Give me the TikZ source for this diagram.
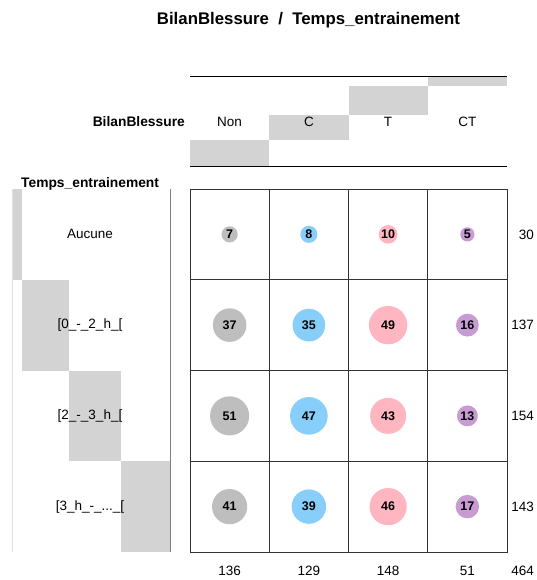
\documentclass[tikz,border=0pt]{standalone}
\usepackage{fontspec}
\setmainfont{Liberation Sans}
\definecolor{barcol}{HTML}{D3D3D3}
\definecolor{cgray}{HTML}{BEBEBE}
\definecolor{cblue}{HTML}{87CEFA}
\definecolor{cpink}{HTML}{FFB6C1}
\definecolor{cpurple}{RGB}{200,155,210}
\definecolor{gridcol}{HTML}{333333}
\begin{document}
\begin{tikzpicture}[x=1pt,y=-1pt,
  txt/.style={inner sep=0pt,font=\fontsize{13.5}{15}\selectfont},
  btxt/.style={inner sep=0pt,font=\fontsize{13.8}{15}\selectfont\bfseries},
  ttl/.style={inner sep=0pt,font=\fontsize{16.8}{19}\selectfont\bfseries},
  bar/.style={fill=barcol,draw=none},
  cell/.style={draw=gridcol,line width=0.9pt,minimum width=79.25pt,minimum height=90.75pt,inner sep=0pt},
  bub/.style={circle,draw=none,inner sep=0pt,font=\fontsize{12.5}{14}\selectfont\bfseries}
]
\useasboundingbox (0,0) rectangle (536,580);
\fill[white] (0,0) rectangle (536,580);

% title
\node[ttl] (title) at (308.5,20) {BilanBlessure\ \ /\ \ Temps\_entrainement};

% header bars
\fill[bar] (190,139.6) rectangle (269.25,166);
\fill[bar] (269.25,114.6) rectangle (348.5,139.6);
\fill[bar] (348.5,85.9) rectangle (427.75,114.6);
\fill[bar] (427.75,76) rectangle (507,85.9);
\draw[black,line width=0.9pt] (190,76) -- (507,76);
\draw[black,line width=0.9pt] (190,166) -- (507,166);

\node[btxt,anchor=east] (colvar) at (185,122) {BilanBlessure};
\node[txt] (hNon) at (229.6,122) {Non};
\node[txt] (hC) at (308.9,122) {C};
\node[txt] (hT) at (388.1,122) {T};
\node[txt] (hCT) at (467.4,122) {CT};

% left panel
\node[btxt,anchor=west] (rowvar) at (21,184) {Temps\_entrainement};
\fill[bar] (12,189) rectangle (22.2,279.75);
\fill[bar] (22.2,279.75) rectangle (68.8,370.5);
\fill[bar] (68.8,370.5) rectangle (121.2,461.25);
\fill[bar] (121.2,461.25) rectangle (170,552);
\draw[black!12,line width=0.8pt] (12,189) -- (12,552);
\draw[black!50,line width=1pt] (170,189) -- (170,552);

\node[txt] (r1) at (90,234.4) {Aucune};
\node[txt] (r2) at (90,325.1) {[0\_-\_2\_h\_[};
\node[txt] (r3) at (90,415.9) {[2\_-\_3\_h\_[};
\node[txt] (r4) at (90,506.6) {[3\_h\_-\_...\_[};

% grid and bubbles
\foreach \row/\a/\b/\cc/\d [count=\i] in {234.375/7/8/10/5,325.125/37/35/49/16,415.875/51/47/43/13,506.625/41/39/46/17}{
  \node[cell] (c\i1) at (229.625,\row) {};
  \node[cell] (c\i2) at (308.875,\row) {};
  \node[cell] (c\i3) at (388.125,\row) {};
  \node[cell] (c\i4) at (467.375,\row) {};
  \pgfmathsetmacro{\ra}{2*sqrt(15+7.2*\a)}
  \pgfmathsetmacro{\rb}{2*sqrt(15+7.2*\b)}
  \pgfmathsetmacro{\rc}{2*sqrt(15+7.2*\cc)}
  \pgfmathsetmacro{\rd}{2*sqrt(15+7.2*\d)}
  \node[bub,fill=cgray,minimum size=\ra pt] (b\i1) at (c\i1) {\a};
  \node[bub,fill=cblue,minimum size=\rb pt] (b\i2) at (c\i2) {\b};
  \node[bub,fill=cpink,minimum size=\rc pt] (b\i3) at (c\i3) {\cc};
  \node[bub,fill=cpurple,minimum size=\rd pt] (b\i4) at (c\i4) {\d};
}

% totals
\node[txt,anchor=east] (t1) at (534,234.4) {30};
\node[txt,anchor=east] (t2) at (534,325.1) {137};
\node[txt,anchor=east] (t3) at (534,415.9) {154};
\node[txt,anchor=east] (t4) at (534,506.6) {143};
\node[txt] (s1) at (229.6,570.5) {136};
\node[txt] (s2) at (308.9,570.5) {129};
\node[txt] (s3) at (388.1,570.5) {148};
\node[txt] (s4) at (467.4,570.5) {51};
\node[txt,anchor=east] (tot) at (534,570.5) {464};
\end{tikzpicture}
\end{document}
